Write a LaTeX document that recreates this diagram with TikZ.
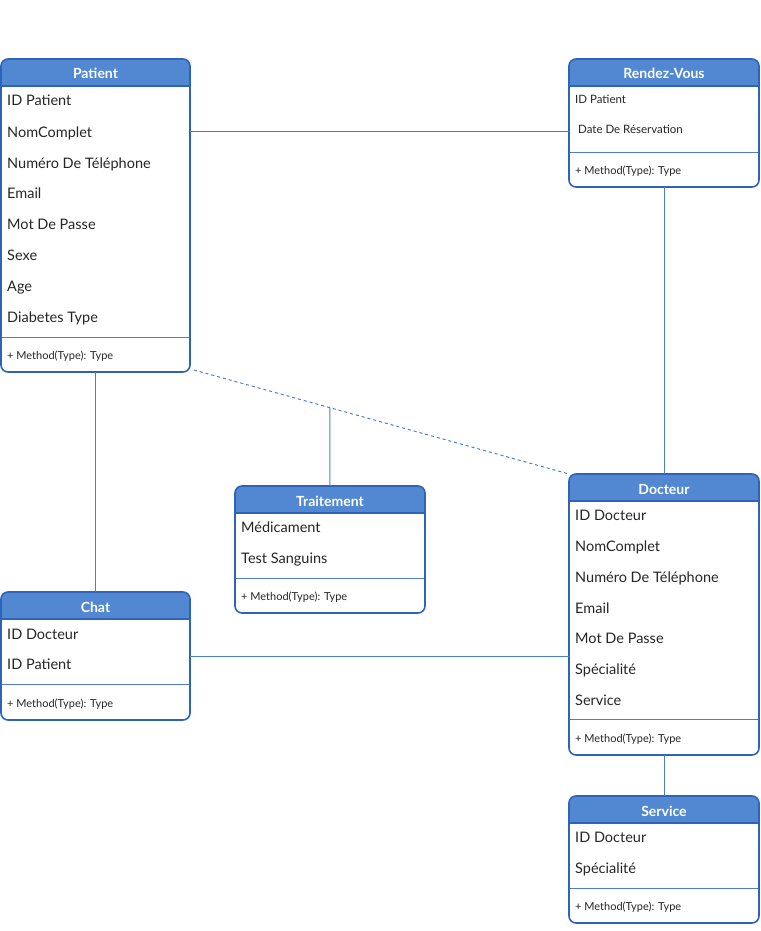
\documentclass[tikz,border=0pt]{standalone}
\usepackage{fontspec}
\setmainfont{Lato}
\definecolor{headblue}{HTML}{5288D2}
\definecolor{edgeblue}{HTML}{2E64B8}
\definecolor{divblue}{HTML}{4D7EC6}
\definecolor{linkblue}{HTML}{4A7FCB}
\tikzset{
  classbox/.style={draw=edgeblue, line width=1.6pt, rounded corners=7pt, anchor=north west, inner sep=0pt, outer sep=0pt},
  headtext/.style={text=white, inner sep=0pt, text height=10pt, text depth=0pt, font=\bfseries\fontsize{14}{14}\selectfont},
  attr/.style={anchor=west, inner sep=0pt, text height=10pt, text depth=0pt, font=\fontsize{14.5}{14.5}\selectfont, text=black!85},
  smallattr/.style={anchor=west, inner sep=0pt, text height=8pt, text depth=0pt, font=\fontsize{11.5}{11.5}\selectfont, text=black!85},
  meth/.style={anchor=west, inner sep=0pt, text height=8pt, text depth=0pt, font=\fontsize{11}{11}\selectfont, text=black!85},
  link/.style={draw=linkblue, line width=1pt},
}
% class box: name, x, y, width, height, title, divider offset from the top
\newcommand\umlbox[7]{%
  \fill[white, rounded corners=7pt] (#2,#3) rectangle ++(#4,#5);
  \begin{scope}
    \clip[rounded corners=7pt] (#2,#3) rectangle ++(#4,#5);
    \fill[headblue] (#2,#3) rectangle ++(#4,27);
  \end{scope}
  \draw[edgeblue, line width=1.4pt] (#2,#3+27) -- ++(#4,0);
  \draw[divblue, line width=0.9pt] (#2,#3+#7) -- ++(#4,0);
  \node[classbox, minimum width=#4pt, minimum height=#5pt] (#1) at (#2,#3) {};
  \node[headtext] (#1-title) at (#2+#4/2,#3+15) {#6};
}
\begin{document}
\begin{tikzpicture}[x=1pt, y=-1pt]
\useasboundingbox (0,0) rectangle (760,931);

% Patient
\umlbox{patient}{1}{59}{189}{313}{Patient}{278}
\node[attr] (p1) at (7,101) {ID Patient};
\node[attr] (p2) at (7,132) {NomComplet};
\node[attr] (p3) at (7,163) {Numéro De Téléphone};
\node[attr] (p4) at (7,193) {Email};
\node[attr] (p5) at (7,224) {Mot De Passe};
\node[attr] (p6) at (7,255) {Sexe};
\node[attr] (p7) at (7,286) {Age};
\node[attr] (p8) at (7,317) {Diabetes Type};
\node[meth] (pm) at (7,355) {+ Method(Type): Type};

% Rendez-Vous
\umlbox{rdv}{569}{59}{190}{128}{Rendez-Vous}{93}
\node[smallattr] (r1) at (575,99) {ID Patient};
\node[smallattr] (r2) at (578,130) {Date De Réservation};
\node[meth] (rm) at (575,170) {+ Method(Type): Type};

% Traitement
\umlbox{treat}{235}{486}{190}{127}{Traitement}{92}
\node[attr] (t1) at (241,527) {Médicament};
\node[attr] (t2) at (241,558) {Test Sanguins};
\node[meth] (tm) at (241,596) {+ Method(Type): Type};

% Chat
\umlbox{chat}{1}{592}{189}{128}{Chat}{92}
\node[attr] (c1) at (7,634) {ID Docteur};
\node[attr] (c2) at (7,664) {ID Patient};
\node[meth] (cm) at (7,703) {+ Method(Type): Type};

% Docteur
\umlbox{doc}{569}{474}{190}{281}{Docteur}{245}
\node[attr] (d1) at (575,515) {ID Docteur};
\node[attr] (d2) at (575,546) {NomComplet};
\node[attr] (d3) at (575,577) {Numéro De Téléphone};
\node[attr] (d4) at (575,608) {Email};
\node[attr] (d5) at (575,638) {Mot De Passe};
\node[attr] (d6) at (575,669) {Spécialité};
\node[attr] (d7) at (575,700) {Service};
\node[meth] (dm) at (575,738) {+ Method(Type): Type};

% Service
\umlbox{svc}{569}{796}{190}{127}{Service}{92}
\node[attr] (s1) at (575,837) {ID Docteur};
\node[attr] (s2) at (575,868) {Spécialité};
\node[meth] (sm) at (575,906) {+ Method(Type): Type};

% associations
\draw[link] (patient.east |- p2.west) -- (rdv.west |- p2.west);
\draw[link] (rdv.south) -- (doc.north);
\draw[link] (patient.south) -- (chat.north);
\draw[link] (chat.east) -- (doc.west |- chat.east);
\draw[link] (doc.south) -- (svc.north);
\draw[link, dash pattern=on 3pt off 3pt] ([xshift=4pt,yshift=2pt]patient.south east) -- (doc.north west)
  coordinate[pos=0.362] (assoc);
\draw[link] (assoc) -- (treat.north);
\end{tikzpicture}
\end{document}
